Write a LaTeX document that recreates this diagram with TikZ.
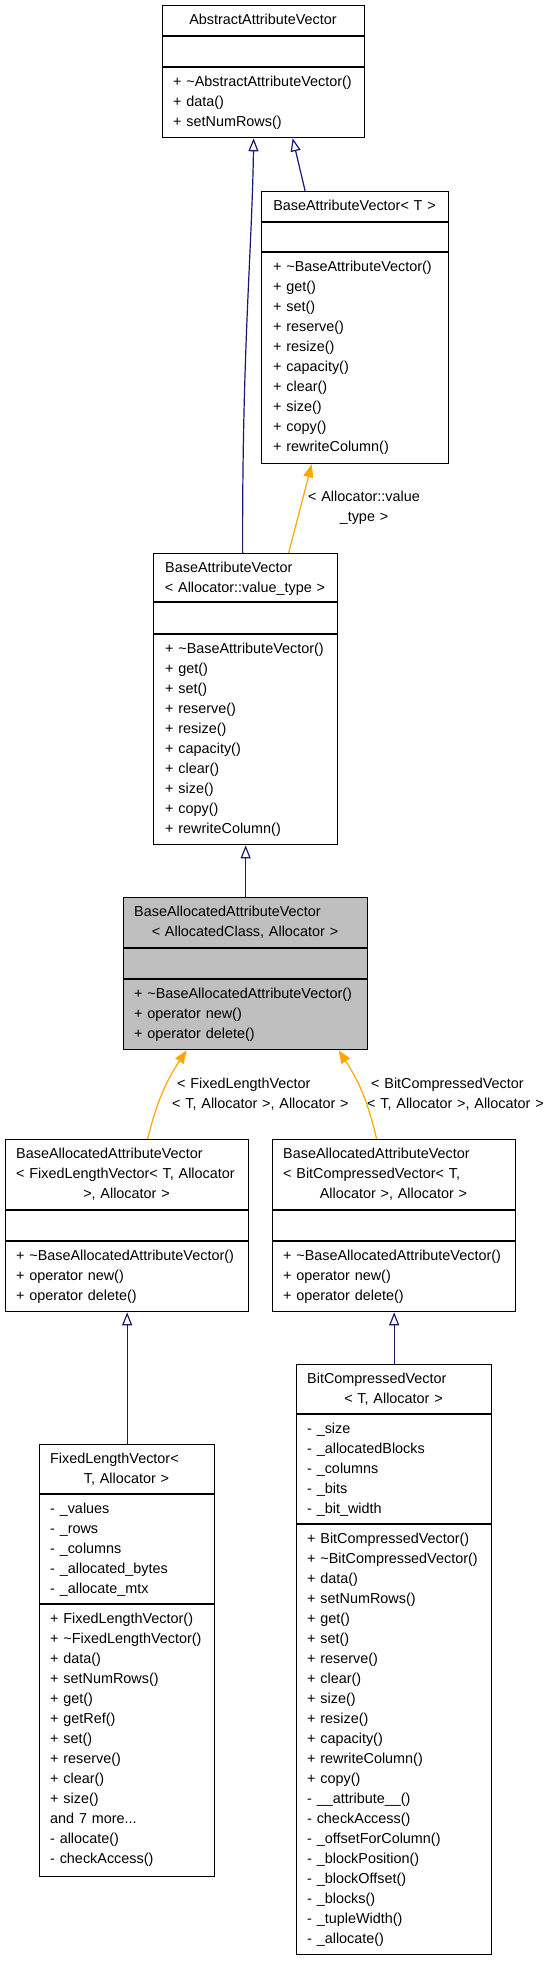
\documentclass[tikz,border=0pt]{standalone}
\usepackage{fontspec}
\setmainfont{Liberation Sans}
\usetikzlibrary{arrows.meta}

\definecolor{inheritblue}{HTML}{191970}
\definecolor{tmplorange}{HTML}{FFA500}
\definecolor{boxgrey}{HTML}{BFBFBF}

\tikzset{
  classbox/.style={draw=black, line width=1.3pt, fill=white, anchor=north west, inner sep=0pt},
  cell/.style={draw=black, line width=1.3pt},
  txt/.style={font=\fontsize{14.4}{20}\selectfont, inner sep=0pt, anchor=base west, align=left, text width=300pt},
  ctxt/.style={font=\fontsize{14.4}{20}\selectfont, inner sep=0pt, anchor=base, align=center, text width=#1},
  inherit/.style={draw=inheritblue, line width=1.2pt, -{Triangle[open, length=13pt, width=10pt]}},
  tmpl/.style={draw=tmplorange, line width=1.2pt, -{Triangle[length=13pt, width=10pt]}},
}

\begin{document}
\begin{tikzpicture}[x=1pt, y=-1pt]
  \useasboundingbox (0,0) rectangle (549,1963);

  \node[classbox, minimum width=202pt, minimum height=132pt] (abs) at (162,5) {};
  \draw[cell] (162,36) -- (364,36) (162,67) -- (364,67);
  \node[ctxt=202pt] (absT) at (263,24) {AbstractAttributeVector};
  \node[txt] (absM) at (173,86) {+ \textasciitilde AbstractAttributeVector()\\+ data()\\+ setNumRows()};

  \node[classbox, minimum width=187pt, minimum height=272pt] (bavT) at (261,191) {};
  \draw[cell] (261,222) -- (448,222) (261,252) -- (448,252);
  \node[ctxt=187pt] (bavTT) at (354.5,210) {BaseAttributeVector< T >};
  \node[txt] (bavTM) at (273,271) {+ \textasciitilde BaseAttributeVector()\\+ get()\\+ set()\\+ reserve()\\+ resize()\\+ capacity()\\+ clear()\\+ size()\\+ copy()\\+ rewriteColumn()};

  \node[classbox, minimum width=184pt, minimum height=291pt] (bav) at (153,553) {};
  \draw[cell] (153,602) -- (337,602) (153,634) -- (337,634);
  \node[txt] (bavT1) at (165,572) {BaseAttributeVector};
  \node[ctxt=184pt] (bavT2) at (245,592) {< Allocator::value\_type >};
  \node[txt] (bavM) at (165,653) {+ \textasciitilde BaseAttributeVector()\\+ get()\\+ set()\\+ reserve()\\+ resize()\\+ capacity()\\+ clear()\\+ size()\\+ copy()\\+ rewriteColumn()};

  \node[classbox, fill=boxgrey, minimum width=244pt, minimum height=152pt] (baav) at (123,897) {};
  \draw[cell] (123,948) -- (367,948) (123,979) -- (367,979);
  \node[txt] (baavT1) at (134,916) {BaseAllocatedAttributeVector};
  \node[ctxt=244pt] (baavT2) at (245,936) {< AllocatedClass, Allocator >};
  \node[txt] (baavM) at (134,998) {+ \textasciitilde BaseAllocatedAttributeVector()\\+ operator new()\\+ operator delete()};

  \node[classbox, minimum width=243pt, minimum height=172pt] (baavF) at (5,1139) {};
  \draw[cell] (5,1210) -- (248,1210) (5,1241) -- (248,1241);
  \node[txt] (baavFT1) at (16,1158) {BaseAllocatedAttributeVector\\< FixedLengthVector< T, Allocator};
  \node[ctxt=243pt] (baavFT2) at (126.5,1198) {>, Allocator >};
  \node[txt] (baavFM) at (16,1260) {+ \textasciitilde BaseAllocatedAttributeVector()\\+ operator new()\\+ operator delete()};

  \node[classbox, minimum width=243pt, minimum height=172pt] (baavB) at (272,1139) {};
  \draw[cell] (272,1210) -- (515,1210) (272,1241) -- (515,1241);
  \node[txt] (baavBT1) at (283,1158) {BaseAllocatedAttributeVector\\< BitCompressedVector< T,};
  \node[ctxt=243pt] (baavBT2) at (393.5,1198) {Allocator >, Allocator >};
  \node[txt] (baavBM) at (283,1260) {+ \textasciitilde BaseAllocatedAttributeVector()\\+ operator new()\\+ operator delete()};

  \node[classbox, minimum width=175pt, minimum height=432pt] (flv) at (39,1444) {};
  \draw[cell] (39,1494) -- (214,1494) (39,1604) -- (214,1604);
  \node[txt] (flvT1) at (50,1463) {FixedLengthVector<};
  \node[ctxt=175pt] (flvT2) at (126.5,1483) {T, Allocator >};
  \node[txt] (flvA) at (50,1513) {- \_values\\- \_rows\\- \_columns\\- \_allocated\_bytes\\- \_allocate\_mtx};
  \node[txt] (flvM) at (50,1623) {+ FixedLengthVector()\\+ \textasciitilde FixedLengthVector()\\+ data()\\+ setNumRows()\\+ get()\\+ getRef()\\+ set()\\+ reserve()\\+ clear()\\+ size()\\and 7 more...\\- allocate()\\- checkAccess()};

  \node[classbox, minimum width=195pt, minimum height=590pt] (bcv) at (296,1364) {};
  \draw[cell] (296,1414) -- (491,1414) (296,1524) -- (491,1524);
  \node[txt] (bcvT1) at (307,1383) {BitCompressedVector};
  \node[ctxt=195pt] (bcvT2) at (393.5,1403) {< T, Allocator >};
  \node[txt] (bcvA) at (307,1433) {- \_size\\- \_allocatedBlocks\\- \_columns\\- \_bits\\- \_bit\_width};
  \node[txt] (bcvM) at (307,1543) {+ BitCompressedVector()\\+ \textasciitilde BitCompressedVector()\\+ data()\\+ setNumRows()\\+ get()\\+ set()\\+ reserve()\\+ clear()\\+ size()\\+ resize()\\+ capacity()\\+ rewriteColumn()\\+ copy()\\- \_\_attribute\_\_()\\- checkAccess()\\- \_offsetForColumn()\\- \_blockPosition()\\- \_blockOffset()\\- \_blocks()\\- \_tupleWidth()\\- \_allocate()};

  \draw[inherit] ([xshift=-3pt]bav.north) .. controls (242,350) and (252,250) .. ([xshift=-10pt]abs.south);
  \draw[inherit] ([xshift=-50pt]bavT.north) -- ([xshift=29pt]abs.south);
  \draw[inherit] (baav.north) -- (bav.south);
  \draw[inherit] (flv.north) -- (baavF.south);
  \draw[inherit] (bcv.north) -- (baavB.south);

  \draw[tmpl] ([xshift=43pt]bav.north) -- ([xshift=-43.5pt]bavT.south);
  \draw[tmpl] ([xshift=20.5pt]baavF.north) to[bend left=10] ([xshift=-59pt]baav.south);
  \draw[tmpl] ([xshift=-17.5pt]baavB.north) to[bend right=10] ([xshift=93pt]baav.south);

  \node[ctxt=150pt] (lblV) at (364,501) {< Allocator::value\\\_type >};
  \node[txt] (lblF) at (172,1088) {\hspace{5pt}< FixedLengthVector\\< T, Allocator >, Allocator >};
  \node[txt] (lblB) at (367,1088) {\hspace{4pt}< BitCompressedVector\\< T, Allocator >, Allocator >};
\end{tikzpicture}
\end{document}
